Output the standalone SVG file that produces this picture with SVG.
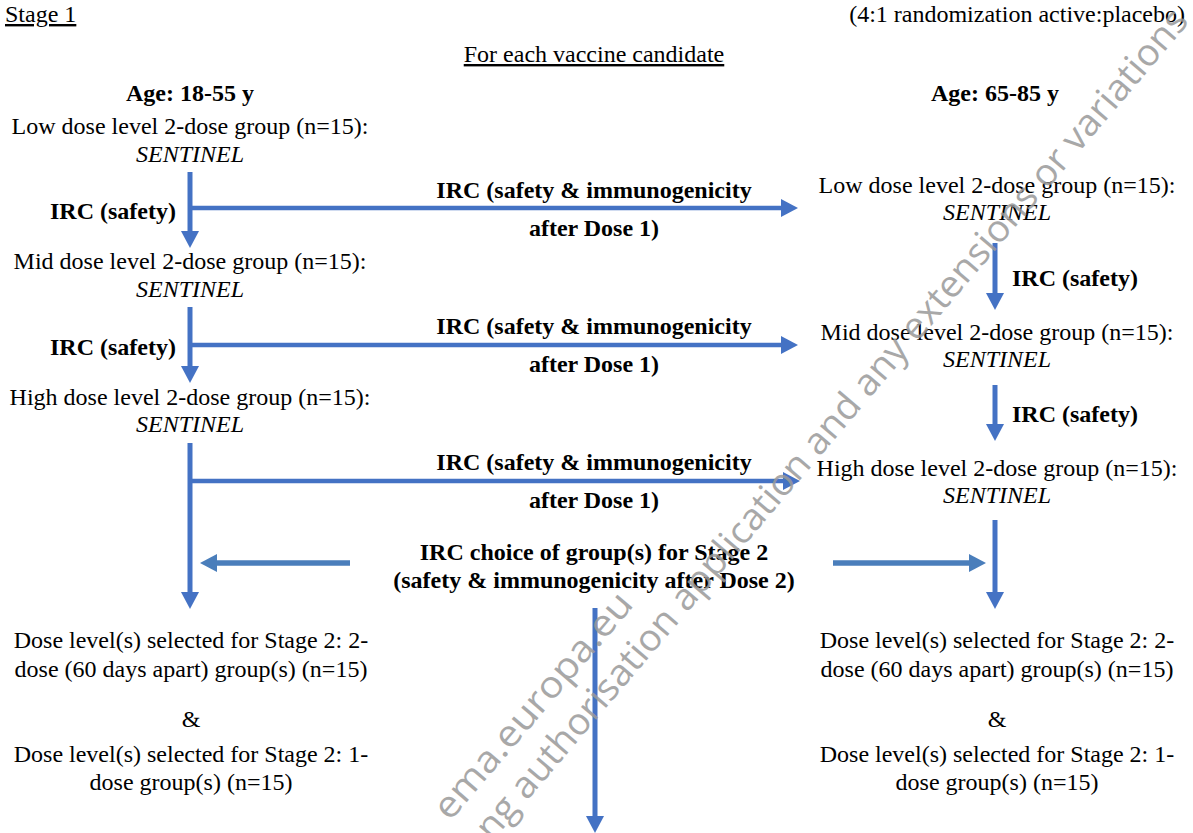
<svg xmlns="http://www.w3.org/2000/svg" width="1193" height="833" viewBox="0 0 1193 833">
<style>
  .t{font-family:"Liberation Serif","Times New Roman","DejaVu Serif",serif;font-size:24px;fill:#000}
  .b{font-weight:bold}
  .i{font-style:italic}
  .c{text-anchor:middle}
  .u{text-decoration:underline}
  .v{stroke:#4472C4;stroke-width:5;fill:none}
  .h{stroke:#4472C4;stroke-width:4.5;fill:none}
  .ch{stroke:#4A7EBB;stroke-width:5.5;fill:none}
  .wm{font-family:"Open Sans","DejaVu Sans",sans-serif;font-size:37px;fill:#9a9a9a;opacity:0.85}
</style>
<defs>
  <marker id="ah" markerUnits="userSpaceOnUse" markerWidth="18" markerHeight="18" refX="8" refY="9" orient="auto" viewBox="0 0 18 18">
    <path d="M0,0 L17,9 L0,18 z" fill="#4472C4"/>
  </marker>
  <marker id="ah2" markerUnits="userSpaceOnUse" markerWidth="18" markerHeight="18" refX="8" refY="9" orient="auto" viewBox="0 0 18 18">
    <path d="M0,0 L17,9 L0,18 z" fill="#4A7EBB"/>
  </marker>
</defs>

<g id="header">
  <text class="t u" x="5" y="22">Stage 1</text>
  <text class="t" x="1185" y="22" text-anchor="end">(4:1 randomization active:placebo)</text>
  <text class="t c u" x="594" y="62">For each vaccine candidate</text>
</g>

<g id="connectors">
  <line class="v" x1="190" y1="172" x2="190" y2="239" marker-end="url(#ah)"/>
  <line class="h" x1="188" y1="208" x2="789" y2="208" marker-end="url(#ah)"/>
  <line class="v" x1="190" y1="307" x2="190" y2="374" marker-end="url(#ah)"/>
  <line class="h" x1="188" y1="345" x2="789" y2="345" marker-end="url(#ah)"/>
  <line class="v" x1="190" y1="443" x2="190" y2="600" marker-end="url(#ah)"/>
  <line class="h" x1="188" y1="481" x2="791" y2="481" marker-end="url(#ah)"/>
  <line class="v" x1="995" y1="243" x2="995" y2="301" marker-end="url(#ah)"/>
  <line class="v" x1="995" y1="385" x2="995" y2="432" marker-end="url(#ah)"/>
  <line class="v" x1="995" y1="520" x2="995" y2="600" marker-end="url(#ah)"/>
  <line class="ch" x1="350" y1="563" x2="209" y2="563" marker-end="url(#ah2)"/>
  <line class="ch" x1="833" y1="563" x2="977" y2="563" marker-end="url(#ah2)"/>
  <line class="v" x1="595" y1="608" x2="595" y2="824" marker-end="url(#ah)"/>
</g>

<g id="age-young">
  <text class="t b c" x="190" y="101">Age: 18-55 y</text>
</g>
<g id="young-low">
  <text class="t c" x="190" y="134">Low dose level 2-dose group (n=15):</text>
  <text class="t c i" x="190" y="162">SENTINEL</text>
</g>
<g id="young-mid">
  <text class="t c" x="190" y="269">Mid dose level 2-dose group (n=15):</text>
  <text class="t c i" x="190" y="297">SENTINEL</text>
</g>
<g id="young-high">
  <text class="t c" x="190" y="405">High dose level 2-dose group (n=15):</text>
  <text class="t c i" x="190" y="432">SENTINEL</text>
</g>
<g id="young-stage2">
  <text class="t c" x="191" y="648">Dose level(s) selected for Stage 2: 2-</text>
  <text class="t c" x="191" y="677">dose (60 days apart) group(s) (n=15)</text>
  <text class="t c" x="191" y="727">&amp;</text>
  <text class="t c" x="191" y="762">Dose level(s) selected for Stage 2: 1-</text>
  <text class="t c" x="191" y="790">dose group(s) (n=15)</text>
</g>

<g id="irc-labels">
  <text class="t b" x="176" y="219" text-anchor="end">IRC (safety)</text>
  <text class="t b" x="176" y="355" text-anchor="end">IRC (safety)</text>
  <text class="t b" x="1012" y="286">IRC (safety)</text>
  <text class="t b" x="1012" y="422">IRC (safety)</text>
  <text class="t b c" x="594" y="198">IRC (safety &amp; immunogenicity</text>
  <text class="t b c" x="594" y="236">after Dose 1)</text>
  <text class="t b c" x="594" y="334">IRC (safety &amp; immunogenicity</text>
  <text class="t b c" x="594" y="372">after Dose 1)</text>
  <text class="t b c" x="594" y="470">IRC (safety &amp; immunogenicity</text>
  <text class="t b c" x="594" y="508">after Dose 1)</text>
</g>

<g id="irc-choice">
  <text class="t b c" x="594" y="560">IRC choice of group(s) for Stage 2</text>
  <text class="t b c" x="594" y="588">(safety &amp; immunogenicity after Dose 2)</text>
</g>

<g id="age-old">
  <text class="t b c" x="995" y="101">Age: 65-85 y</text>
</g>
<g id="old-low">
  <text class="t c" x="997" y="193">Low dose level 2-dose group (n=15):</text>
  <text class="t c i" x="997" y="220">SENTINEL</text>
</g>
<g id="old-mid">
  <text class="t c" x="997" y="340">Mid dose level 2-dose group (n=15):</text>
  <text class="t c i" x="997" y="367">SENTINEL</text>
</g>
<g id="old-high">
  <text class="t c" x="997" y="476">High dose level 2-dose group (n=15):</text>
  <text class="t c i" x="997" y="503">SENTINEL</text>
</g>
<g id="old-stage2">
  <text class="t c" x="997" y="648">Dose level(s) selected for Stage 2: 2-</text>
  <text class="t c" x="997" y="677">dose (60 days apart) group(s) (n=15)</text>
  <text class="t c" x="997" y="727">&amp;</text>
  <text class="t c" x="997" y="762">Dose level(s) selected for Stage 2: 1-</text>
  <text class="t c" x="997" y="790">dose group(s) (n=15)</text>
</g>

<g id="watermark">
  <text class="wm" transform="translate(450,822) rotate(-49.6)" textLength="285" lengthAdjust="spacingAndGlyphs">ema.europa.eu</text>
  <text class="wm" transform="translate(492,842) rotate(-49.6)" textLength="1077" lengthAdjust="spacingAndGlyphs">ng authorisation application and any extensions or variations</text>
</g>
</svg>
